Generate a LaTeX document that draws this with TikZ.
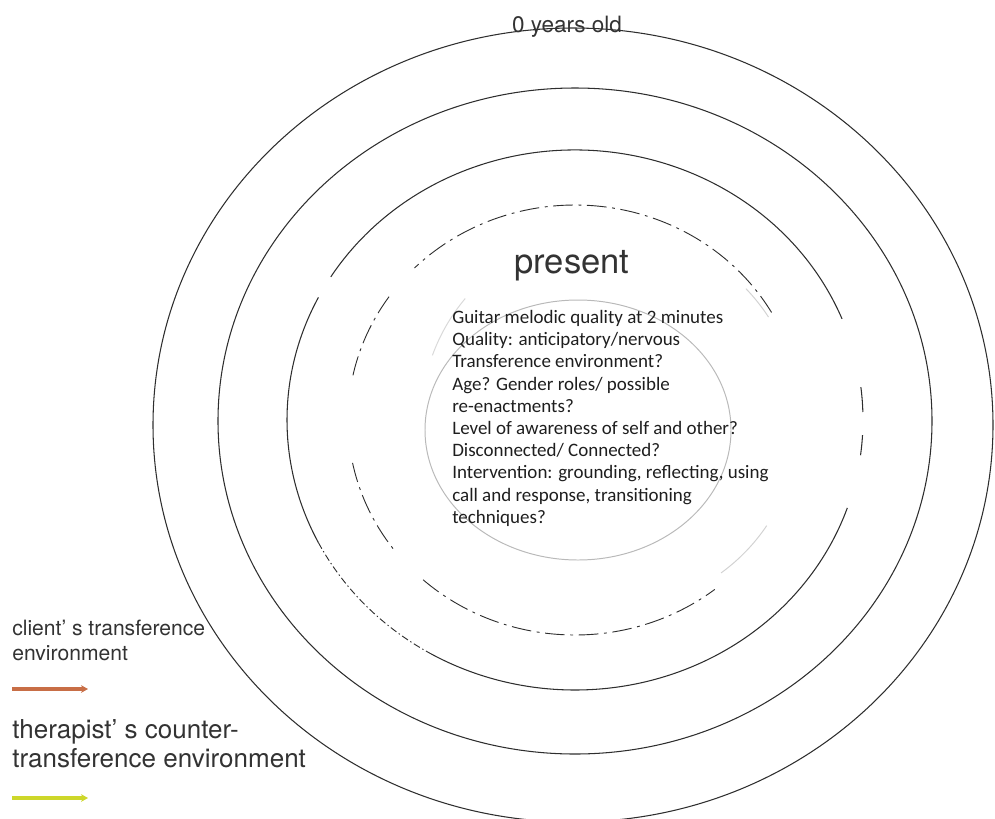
\documentclass[tikz,border=0pt]{standalone}
\usepackage{fontspec}
\setmainfont{TeX Gyre Heros}
\newfontfamily\notesfont{Carlito}
\usetikzlibrary{arrows.meta}
\definecolor{ringgray}{HTML}{2E2E2E}
\definecolor{textgray}{HTML}{333333}
\definecolor{notesdark}{HTML}{1E1E1E}
\definecolor{clientorange}{HTML}{C86E46}
\definecolor{therapistyellow}{HTML}{CDD72A}

\begin{document}
\begin{tikzpicture}[x=0.025cm, y=0.025cm,
    ring/.style={ringgray, line width=0.75pt},
    dashring/.style={ringgray, line width=0.65pt, dash pattern=on 14pt off 4pt on 2pt off 4pt},
    dotring/.style={ringgray, line width=0.65pt, dash pattern=on 5pt off 2pt on 1pt off 2pt},
    halo/.style={gray!55, line width=0.7pt},
    notes/.style={font=\notesfont\fontsize{13.5}{15.8}\selectfont, text=notesdark, align=left, inner sep=0pt},
    legend/.style={text=textgray, align=left, inner sep=0pt},
    legendarrow/.style={line width=2.2pt, -{Stealth[length=5pt, width=5.5pt]}}]
    \useasboundingbox (0,0) rectangle (995,-818);

    % First, the rings from 0 years old in to the present
        \draw[ring] (573,-425) ellipse [x radius=420, y radius=397];
        \draw[ring] (575,-421) ellipse [x radius=357, y radius=333];
        \draw[ring] (575,-420) ++(22:288 and 270) arc[start angle=22, end angle=148, x radius=288, y radius=270];
        \draw[ring] (575,-420) ++(153:288 and 270) arc[start angle=153, end angle=207, x radius=288, y radius=270];
        \draw[dotring] (575,-420) ++(207:288 and 270) arc[start angle=207, end angle=240, x radius=288, y radius=270];
        \draw[ring] (575,-420) ++(240:288 and 270) arc[start angle=240, end angle=341, x radius=288, y radius=270];
        \draw[ring] (575,-420) ++(1.7:288 and 270) arc[start angle=1.7, end angle=7, x radius=288, y radius=270];
        \draw[ring] (575,-420) ++(-7.5:288 and 270) arc[start angle=-7.5, end angle=-3.2, x radius=288, y radius=270];
        \draw[dashring] (575,-420) ++(30:227 and 215) arc[start angle=30, end angle=135, x radius=227, y radius=215];
        \draw[dashring] (575,-420) ++(145:227 and 215) arc[start angle=145, end angle=168.5, x radius=227, y radius=215];
        \draw[dashring] (575,-420) ++(191.5:227 and 215) arc[start angle=191.5, end angle=217, x radius=227, y radius=215];
        \draw[dashring] (575,-420) ++(228:227 and 215) arc[start angle=228, end angle=308, x radius=227, y radius=215];

    % The soft circle round the notes
        \draw[halo] (578,-430) ellipse [x radius=153, y radius=130];
        \draw[halo, gray!35] (610,-420) ++(33:189) arc[start angle=33, end angle=44, radius=189];
        \draw[halo, gray!35] (610,-420) ++(-54:189) arc[start angle=-54, end angle=-34, radius=189];
        \draw[halo, gray!30] (610,-420) ++(140:189) arc[start angle=140, end angle=160, radius=189];

    % Now the texts
        \node[text=textgray, font=\fontsize{16}{19}\selectfont, anchor=base] (yearsold) at (567,-32) {0 years old};
        \node[text=textgray, font=\fontsize{24.6}{29}\selectfont, anchor=base] (present) at (572,-273) {present};
        \node[notes, anchor=north west] (notes) at (452,-310) {Guitar melodic quality at 2 minutes\\
            Quality: anticipatory/nervous\\
            Transference environment?\\
            Age? Gender roles/ possible\\
            re-enactments?\\
            Level of awareness of self and other?\\
            Disconnected/ Connected?\\
            Intervention: grounding, reflecting, using\\
            call and response, transitioning\\
            techniques?};

    % Legend in the lower left corner
        \node[legend, font=\fontsize{15}{17.8}\selectfont, anchor=north west] (clientlabel) at (12,-620) {client’ s transference\\environment};
        \node[legend, font=\fontsize{18.5}{20.8}\selectfont, anchor=north west] (therapistlabel) at (12,-719) {therapist’ s counter-\\transference environment};
        \coordinate (clientstart) at (12,-689);
        \coordinate (clientend) at (88,-689);
        \coordinate (therapiststart) at (12,-798);
        \coordinate (therapistend) at (88,-798);
        \draw[legendarrow, clientorange] (clientstart) -- (clientend);
        \draw[legendarrow, therapistyellow] (therapiststart) -- (therapistend);
    \end{tikzpicture}
\end{document}
